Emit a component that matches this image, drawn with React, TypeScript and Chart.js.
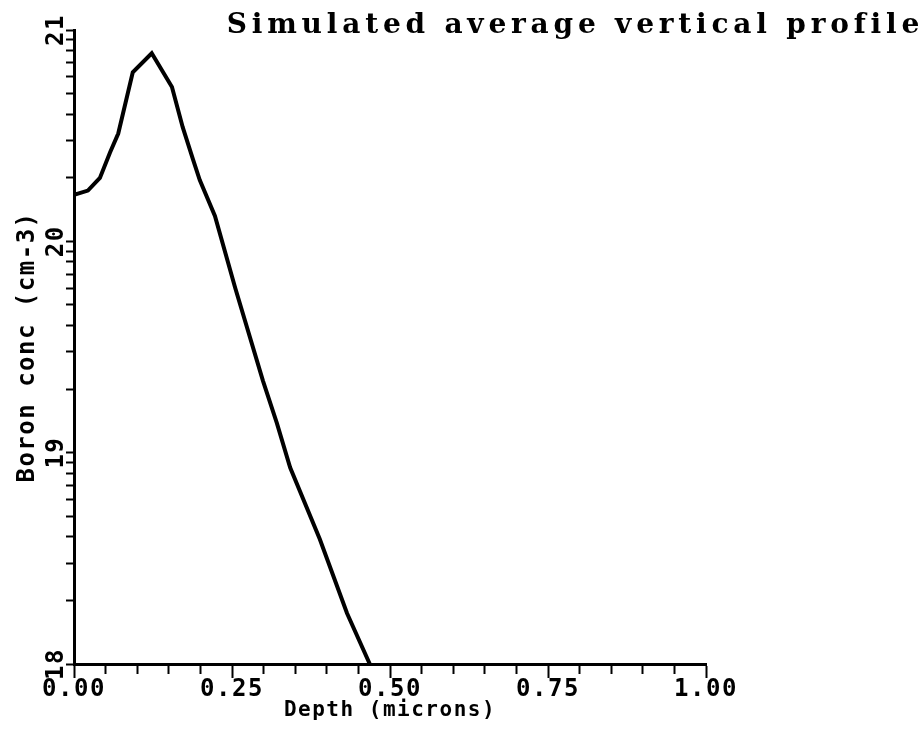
import React, { useEffect, useRef } from 'react';
import { Chart, registerables } from 'chart.js';

Chart.register(...registerables);

// Depth (microns) and log10 boron concentration (cm-3)
const depthMicrons = [0, 0.022, 0.041, 0.057, 0.07, 0.093, 0.123, 0.155, 0.172, 0.188, 0.199, 0.223, 0.255, 0.299, 0.321, 0.342, 0.389, 0.432, 0.468];
const boronLogConc = [20.22, 20.24, 20.3, 20.42, 20.51, 20.8, 20.89, 20.73, 20.54, 20.39, 20.29, 20.12, 19.78, 19.34, 19.14, 18.93, 18.59, 18.24, 18.0];

const xMin = 0;
const xMax = 1;
const xStep = 0.05;
const xMajorStep = 0.25;
const yDecades = [18, 19, 20, 21];
const yMinorMultipliers = [2, 3, 4, 5, 6, 7, 8, 9];

const chartTitle = 'Simulated average vertical profile';
const xTitle = 'Depth (microns)';
const yTitle = 'Boron conc (cm-3)';

const yTickValues: number[] = [];
yDecades.forEach((d, i) => {
  yTickValues.push(d);
  if (i < yDecades.length - 1) yMinorMultipliers.forEach((m) => yTickValues.push(d + Math.log10(m)));
});

const isMajorX = (v: number) => Math.abs(v / xMajorStep - Math.round(v / xMajorStep)) < 1e-6;
const isDecade = (v: number) => Math.abs(v - Math.round(v)) < 1e-9;

const MONO = 'DejaVu Sans Mono';

const spacingPlugin = {
  id: 'letterSpacingPlugin',
  beforeDraw(chart: any) {
    chart.ctx.letterSpacing = '4.8px';
  },
  beforeDatasetsDraw(chart: any) {
    chart.ctx.letterSpacing = '1.5px';
  },
  afterDraw(chart: any) {
    chart.ctx.letterSpacing = '0px';
  },
};

export default function App() {
  const canvasRef = useRef<HTMLCanvasElement | null>(null);

  useEffect(() => {
    if (!canvasRef.current) return;
    const chart = new Chart(canvasRef.current, {
      type: 'line',
      data: {
        datasets: [
          {
            label: 'Boron',
            data: depthMicrons.map((x, i) => ({ x, y: boronLogConc[i] })),
            borderColor: '#000',
            borderWidth: 4,
            pointRadius: 0,
            tension: 0,
            fill: false,
            xAxisID: 'x',
            yAxisID: 'y',
          },
        ],
      },
      plugins: [spacingPlugin],
      options: {
        animation: false,
        responsive: true,
        maintainAspectRatio: false,
        layout: { padding: { left: 0, right: 0, top: 0, bottom: 0 } },
        plugins: {
          legend: { display: false },
          tooltip: { enabled: false },
          title: {
            display: true,
            text: chartTitle,
            align: 'end',
            color: '#000',
            font: { family: 'DejaVu Serif', size: 28, weight: 'bold', lineHeight: 1 },
            padding: { top: 12, bottom: -10 },
          },
        },
        scales: {
          x: {
            type: 'linear',
            position: 'bottom',
            min: xMin,
            max: xMax,
            afterFit: (s: any) => {
              s.height = 72;
            },
            border: { display: true, color: '#000', width: 3, z: 1 },
            grid: {
              display: true,
              drawOnChartArea: false,
              drawTicks: true,
              tickLength: 14,
              tickColor: '#000',
              tickWidth: 2,
              tickBorderDash: (c: any) => (c.tick && isMajorX(c.tick.value) ? [] : [8, 100]),
              z: 1,
            },
            ticks: {
              stepSize: xStep,
              autoSkip: false,
              maxRotation: 0,
              minRotation: 0,
              padding: -3,
              color: '#000',
              font: { family: MONO, size: 24, weight: 'bold' },
              callback: (value: any) => {
                const v = Number(value);
                return isMajorX(v) ? v.toFixed(2) : '';
              },
              z: 1,
            },
            title: {
              display: true,
              text: xTitle,
              color: '#000',
              font: { family: MONO, size: 21, weight: 'bold', lineHeight: 1 },
              padding: { top: 0, bottom: 15 },
            },
          },
          y: {
            type: 'linear',
            position: 'left',
            min: yDecades[0],
            max: yDecades[yDecades.length - 1],
            afterFit: (s: any) => {
              s.width = 74;
            },
            afterBuildTicks: (s: any) => {
              s.ticks = yTickValues.map((value) => ({ value }));
            },
            border: { display: true, color: '#000', width: 3, z: 1 },
            grid: {
              display: true,
              drawOnChartArea: false,
              drawTicks: true,
              tickLength: 8,
              tickColor: '#000',
              tickWidth: 2,
              z: 1,
            },
            ticks: {
              autoSkip: false,
              minRotation: 90,
              maxRotation: 90,
              crossAlign: 'center',
              padding: -5,
              color: '#000',
              font: { family: MONO, size: 24, weight: 'bold' },
              callback: (value: any) => {
                const v = Number(value);
                return isDecade(v) ? String(Math.round(v)) : '';
              },
              z: 1,
            },
            title: {
              display: true,
              text: yTitle,
              color: '#000',
              font: { family: MONO, size: 24, weight: 'bold', lineHeight: 1 },
              padding: { top: 16, bottom: 0 },
            },
          },
          yR: {
            type: 'linear',
            position: 'right',
            display: true,
            afterFit: (s: any) => {
              s.width = 218;
            },
            grid: { display: false, drawTicks: false },
            border: { display: false },
            ticks: { display: false },
            title: { display: false },
          },
        },
      } as any,
    });
    return () => chart.destroy();
  }, []);

  return (
    <div style={{ position: 'fixed', left: 0, top: 0, width: 924, height: 736, background: '#fff' }}>
      <canvas ref={canvasRef} />
    </div>
  );
}
